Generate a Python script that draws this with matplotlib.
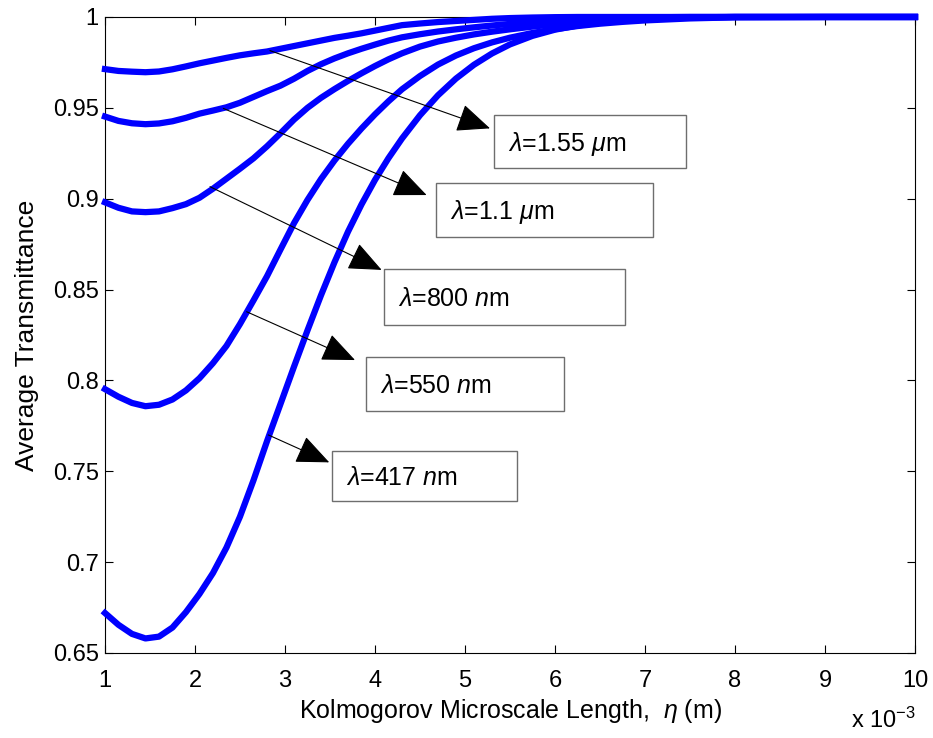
import matplotlib
matplotlib.use("Agg")
import matplotlib.pyplot as plt

plt.rcParams['font.family'] = ['Liberation Sans', 'DejaVu Sans']
plt.rcParams['mathtext.fontset'] = 'custom'
plt.rcParams['mathtext.rm'] = 'Liberation Sans'
plt.rcParams['mathtext.it'] = 'Liberation Sans:italic'

# Kolmogorov microscale length (x 10^-3 m)
eta = [1.0, 1.15, 1.3, 1.45, 1.6, 1.75, 1.9, 2.05, 2.2, 2.35, 2.5, 2.65, 2.8, 2.95,
       3.1, 3.25, 3.4, 3.55, 3.7, 3.85, 4.0, 4.15, 4.3, 4.5, 4.7, 4.9, 5.1, 5.3,
       5.5, 5.75, 6.0, 6.25, 6.5, 6.75, 7.0, 7.5, 8.0, 9.0, 10.0]

# average transmittance
t_1550 = [0.9713, 0.9703, 0.9699, 0.9696, 0.9700, 0.9712, 0.9728, 0.9745, 0.9760, 0.9775,
          0.9789, 0.9800, 0.9810, 0.9825, 0.9840, 0.9855, 0.9870, 0.9885, 0.9897, 0.9910,
          0.9925, 0.9940, 0.9955, 0.9964, 0.9972, 0.9978, 0.9984, 0.9990, 0.9994, 0.9997,
          0.9999, 1.0, 1.0, 1.0, 1.0, 1.0, 1.0, 1.0, 1.0]
t_1100 = [0.9452, 0.9428, 0.9415, 0.9410, 0.9414, 0.9426, 0.9445, 0.9468, 0.9485, 0.9503,
          0.9528, 0.9560, 0.9592, 0.9622, 0.9660, 0.9703, 0.9740, 0.9772, 0.9800, 0.9825,
          0.9848, 0.9870, 0.9888, 0.9905, 0.9920, 0.9932, 0.9943, 0.9953, 0.9962, 0.9972,
          0.9980, 0.9987, 0.9992, 0.9995, 0.9998, 1.0, 1.0, 1.0, 1.0]
t_800 = [0.8980, 0.8950, 0.8930, 0.8926, 0.8930, 0.8948, 0.8970, 0.9005, 0.9055, 0.9110,
         0.9165, 0.9222, 0.9288, 0.9360, 0.9435, 0.9500, 0.9555, 0.9603, 0.9648, 0.9690,
         0.9730, 0.9767, 0.9800, 0.9837, 0.9865, 0.9886, 0.9904, 0.9919, 0.9932, 0.9947,
         0.9960, 0.9971, 0.9980, 0.9987, 0.9992, 0.9998, 1.0, 1.0, 1.0]
t_550 = [0.7952, 0.7910, 0.7876, 0.7858, 0.7866, 0.7895, 0.7945, 0.8012, 0.8095, 0.8190,
         0.8310, 0.8440, 0.8573, 0.8720, 0.8865, 0.8993, 0.9108, 0.9210, 0.9302, 0.9386,
         0.9464, 0.9536, 0.9602, 0.9675, 0.9738, 0.9788, 0.9828, 0.9860, 0.9886, 0.9912,
         0.9933, 0.9950, 0.9963, 0.9973, 0.9981, 0.9992, 0.9998, 1.0, 1.0]
t_417 = [0.6720, 0.6655, 0.6605, 0.6580, 0.6590, 0.6640, 0.6725, 0.6825, 0.6940, 0.7080,
         0.7250, 0.7450, 0.7665, 0.7870, 0.8075, 0.8275, 0.8468, 0.8650, 0.8818, 0.8968,
         0.9103, 0.9223, 0.9331, 0.9459, 0.9569, 0.9661, 0.9737, 0.9799, 0.9849, 0.9896,
         0.9930, 0.9953, 0.9969, 0.9980, 0.9988, 0.9996, 1.0, 1.0, 1.0]

series = [t_1550, t_1100, t_800, t_550, t_417]

labels = [r'$\lambda$=1.55 $\mu$m', r'$\lambda$=1.1 $\mu$m', r'$\lambda$=800 $n$m',
          r'$\lambda$=550 $n$m', r'$\lambda$=417 $n$m']
# arrow start (on curve), arrow tip, text box (x0, x1, y0, y1)
arrow_from = [(2.833, 0.9815), (2.315, 0.9497), (2.167, 0.9066), (2.574, 0.8378), (2.815, 0.770)]
arrow_to = [(5.278, 0.9387), (4.574, 0.902), (4.074, 0.8608), (3.778, 0.8112), (3.492, 0.7549)]
boxes = [(5.322, 7.456, 0.9169, 0.9461), (4.678, 7.089, 0.8789, 0.9086),
         (4.100, 6.778, 0.8305, 0.8613), (3.900, 6.100, 0.7832, 0.8129),
         (3.522, 5.578, 0.7336, 0.7612)]

fig = plt.figure(figsize=(9.33, 7.38), dpi=100)
ax = fig.add_axes([0.1125, 0.1152, 0.8682, 0.8618])

for t in series:
    ax.plot(eta, t, color='#0000ff', lw=4.5, clip_on=False, zorder=3,
            solid_joinstyle='round')

for lab, p0, p1, b in zip(labels, arrow_from, arrow_to, boxes):
    ax.annotate('', xy=p1, xytext=p0,
                arrowprops=dict(arrowstyle='-|>,head_length=1.4,head_width=0.6',
                                color='black', lw=0.8, shrinkA=0, shrinkB=0,
                                mutation_scale=15), zorder=4)
    ax.add_patch(plt.Rectangle((b[0], b[2]), b[1] - b[0], b[3] - b[2], fill=True,
                               facecolor='white', edgecolor='#6e6e6e', lw=1.0, zorder=5))
    ax.text(b[0] + 0.16, (b[2] + b[3]) / 2 - 0.005, lab, fontsize=18,
            ha='left', va='baseline', zorder=6)

ax.set_xlim(1, 10)
ax.set_ylim(0.65, 1)
ax.set_xticks(range(1, 11))
ax.set_yticks([0.65, 0.7, 0.75, 0.8, 0.85, 0.9, 0.95, 1.0])
ax.set_yticklabels(['0.65', '0.7', '0.75', '0.8', '0.85', '0.9', '0.95', '1'])
ax.tick_params(direction='in', top=True, right=True, length=6, width=0.8,
               labelsize=17)
ax.tick_params(axis='x', pad=12)
ax.tick_params(axis='y', pad=4.5)
for s in ax.spines.values():
    s.set_linewidth(0.8)

ax.set_xlabel(r'Kolmogorov Microscale Length,  $\eta$ (m)', fontsize=18, labelpad=4)
ax.set_ylabel('Average Transmittance', fontsize=19, labelpad=10)
fig.text(0.912, 0.0136, r'x 10$^{-3}$', fontsize=17, ha='left', va='baseline')

fig.savefig('out.png', dpi=100)
